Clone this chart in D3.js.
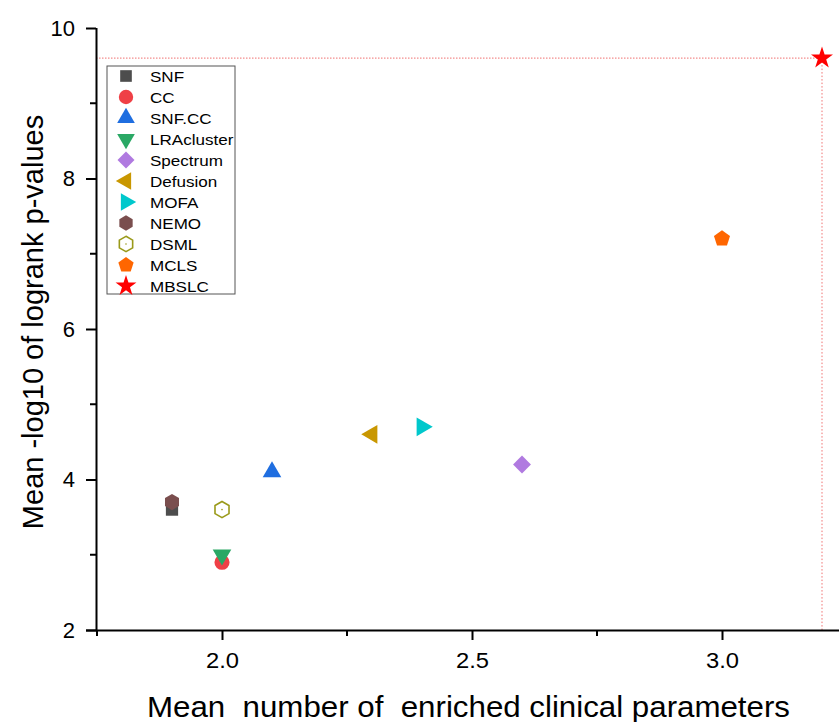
<!DOCTYPE html>
<html>
<head>
<meta charset="utf-8">
<script src="https://cdn.jsdelivr.net/npm/d3@7"></script>
<style>
  body { margin: 0; background: #fff; }
  text { font-family: "Liberation Sans", Arial, sans-serif; }
</style>
</head>
<body>
<div id="chart"></div>
<script>
// Methods and their values
const methods = ['SNF', 'CC', 'SNF.CC', 'LRAcluster', 'Spectrum', 'Defusion', 'MOFA', 'NEMO', 'DSML', 'MCLS', 'MBSLC'];
const meanClinical = [1.9, 2.0, 2.1, 2.0, 2.6, 2.3, 2.4, 1.9, 2.0, 3.0, 3.2];
const meanLogP = [3.6, 2.9, 4.1, 3.0, 4.2, 4.6, 4.7, 3.7, 3.6, 7.2, 9.6];
const colors = ['#4d4d4d', '#ef4046', '#1f6ee0', '#2aa865', '#b07ae0', '#c99700', '#00c8cc', '#7a4e4e', '#9a9a1a', '#ff6600', '#ff0000'];
const shapes = ['square', 'circle', 'up', 'down', 'diamond', 'left', 'right', 'hexagon', 'hexagonOpen', 'pentagon', 'star'];

const xTicks = [2.0, 2.5, 3.0];
const yTicks = [2, 4, 6, 8, 10];
const xMinor = [1.75, 2.25, 2.75];
const yMinor = [3, 5, 7, 9];

// order of drawing so overlaps look like the picture
const drawOrder = [0, 7, 8, 1, 3, 2, 5, 6, 4, 9, 10];

const W = 839, H = 722;
const margin = {top: 28, right: 0, bottom: 92, left: 96};
const stretch = 1.1; // text in the picture is a bit wider than tall

const svg = d3.select("#chart").append("svg")
    .attr("width", W)
    .attr("height", H);

const x = d3.scaleLinear().domain([1.748, 3.234]).range([margin.left, W - margin.right]);
const y = d3.scaleLinear().domain([2, 10]).range([H - margin.bottom, margin.top]);

// polygon symbol types
function polygon(n, rot) {
    return {
        draw(ctx, size) {
            const r = Math.sqrt(size / (n / 2 * Math.sin(2 * Math.PI / n)));
            for (let i = 0; i < n; i++) {
                const a = rot + i * 2 * Math.PI / n;
                const px = r * Math.sin(a), py = -r * Math.cos(a);
                if (i === 0) ctx.moveTo(px, py); else ctx.lineTo(px, py);
            }
            ctx.closePath();
        }
    };
}
const hexagon = polygon(6, 0);
const pentagon = polygon(5, 0);

function drawMarker(g, shape, color, scale) {
    const s = scale || 1;
    let type = d3.symbolSquare, size = 150, rot = 0;
    if (shape === 'circle') { type = d3.symbolCircle; size = 180; }
    if (shape === 'up') { type = d3.symbolTriangle; size = 150; }
    if (shape === 'down') { type = d3.symbolTriangle; size = 150; rot = 180; }
    if (shape === 'left') { type = d3.symbolTriangle; size = 150; rot = -90; }
    if (shape === 'right') { type = d3.symbolTriangle; size = 150; rot = 90; }
    if (shape === 'diamond') { type = d3.symbolSquare; size = 160; rot = 45; }
    if (shape === 'hexagon' || shape === 'hexagonOpen') { type = hexagon; size = 170; }
    if (shape === 'pentagon') { type = pentagon; size = 170; }
    if (shape === 'star') { type = d3.symbolStar; size = 150; }
    const p = g.append("path")
        .attr("d", d3.symbol().type(type).size(size * s * s)())
        .attr("transform", `rotate(${rot})`);
    if (shape === 'hexagonOpen') {
        p.attr("fill", "none").attr("stroke", color).attr("stroke-width", 1.6);
        g.append("circle").attr("r", 0.8).attr("fill", color);
    } else {
        p.attr("fill", color);
    }
}

// reference lines for MBSLC
const best = 10;
svg.append("line")
    .attr("x1", x.range()[0]).attr("x2", x(meanClinical[best]))
    .attr("y1", y(meanLogP[best])).attr("y2", y(meanLogP[best]))
    .attr("stroke", "#f07070").attr("stroke-width", 1)
    .attr("stroke-dasharray", "1.5,1.5");
svg.append("line")
    .attr("x1", x(meanClinical[best])).attr("x2", x(meanClinical[best]))
    .attr("y1", y(meanLogP[best])).attr("y2", y(2))
    .attr("stroke", "#f07070").attr("stroke-width", 1)
    .attr("stroke-dasharray", "1.5,2");

// axes
const xAxis = svg.append("g")
    .attr("transform", `translate(0,${y(2)})`)
    .call(d3.axisBottom(x).tickValues(xTicks).tickFormat(d3.format(".1f")).tickSize(10).tickPadding(12));
const yAxis = svg.append("g")
    .attr("transform", `translate(${x.range()[0]},0)`)
    .call(d3.axisLeft(y).tickValues(yTicks).tickSize(10).tickPadding(11));

[xAxis, yAxis].forEach(a => {
    a.select(".domain").attr("stroke", "#000").attr("stroke-width", 2);
    a.selectAll(".tick line").attr("stroke", "#000").attr("stroke-width", 2);
    a.selectAll(".tick text").attr("fill", "#000").style("font-size", "22px")
        .style("font-family", "'Liberation Sans', Arial, sans-serif");
});
xAxis.selectAll(".tick text").attr("transform", "scale(1.08,1)");
xAxis.select(".domain").attr("d", `M${x.range()[0] - 10},0.5H${W}`);
yAxis.select(".domain").attr("d", `M0.5,${y(2)}V${y(10)}`);

// minor ticks
svg.append("g").selectAll("line").data(xMinor).join("line")
    .attr("x1", d => x(d)).attr("x2", d => x(d))
    .attr("y1", y(2)).attr("y2", y(2) + 6)
    .attr("stroke", "#000").attr("stroke-width", 2);
svg.append("g").selectAll("line").data(yMinor).join("line")
    .attr("x1", x.range()[0]).attr("x2", x.range()[0] - 6)
    .attr("y1", d => y(d)).attr("y2", d => y(d))
    .attr("stroke", "#000").attr("stroke-width", 2);

// axis titles
svg.append("text")
    .attr("x", 147)
    .attr("y", 717)
    .attr("xml:space", "preserve")
    .attr("textLength", 643)
    .attr("lengthAdjust", "spacingAndGlyphs")
    .style("font-size", "29px")
    .style("white-space", "pre")
    .text("Mean  number of  enriched clinical parameters");

svg.append("text")
    .attr("transform", `translate(43,322) rotate(-90)`)
    .attr("text-anchor", "middle")
    .style("font-size", "29px")
    .text("Mean -log10 of logrank p-values");

// points
drawOrder.forEach(i => {
    const g = svg.append("g")
        .attr("transform", `translate(${x(meanClinical[i])},${y(meanLogP[i])})`);
    drawMarker(g, shapes[i], colors[i], 1);
});

// legend
const legend = svg.append("g").attr("transform", "translate(107,66)");
legend.append("rect")
    .attr("width", 128).attr("height", 228)
    .attr("fill", "#fff").attr("stroke", "#555").attr("stroke-width", 1);
methods.forEach((m, i) => {
    const row = legend.append("g").attr("transform", `translate(19,${10 + i * 21})`);
    drawMarker(row, shapes[i], colors[i], 0.95);
    row.append("text")
        .attr("x", 24 / stretch).attr("y", 5.5)
        .attr("transform", `scale(${stretch},1)`)
        .style("font-size", "15.5px")
        .attr("fill", "#000")
        .text(m);
});
</script>
</body>
</html>
